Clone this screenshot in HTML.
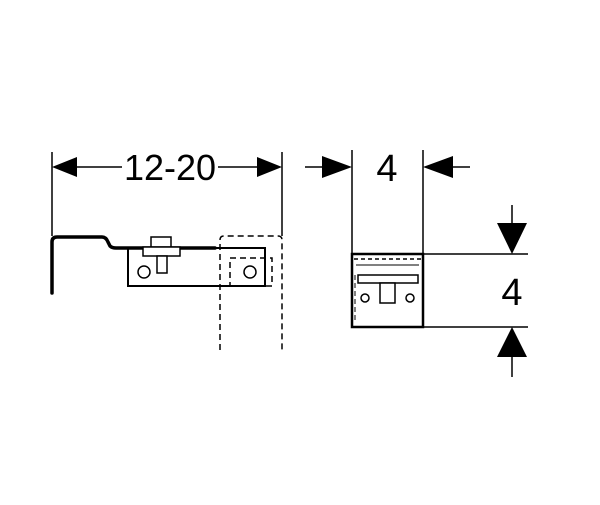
<!DOCTYPE html><html><head><style>body{margin:0;background:#fff}</style></head><body>
<svg width="600" height="500" viewBox="0 0 600 500" xmlns="http://www.w3.org/2000/svg" font-family="Liberation Sans, sans-serif">
<g stroke="#000" fill="none" stroke-width="1.5">
<line x1="52" y1="152" x2="52" y2="236"/>
<line x1="282" y1="152" x2="282" y2="236"/>
<line x1="77" y1="167" x2="122" y2="167"/>
<line x1="218" y1="167" x2="257" y2="167"/>
<line x1="352" y1="150" x2="352" y2="254"/>
<line x1="423" y1="150" x2="423" y2="254"/>
<line x1="305" y1="167" x2="325" y2="167"/>
<line x1="452" y1="167" x2="470" y2="167"/>
<line x1="423" y1="254" x2="528" y2="254"/>
<line x1="423" y1="327" x2="528" y2="327"/>
<line x1="512" y1="205" x2="512" y2="225"/>
<line x1="512" y1="356" x2="512" y2="377"/>
<path d="M52,293 V242 Q52,237 57,237 H102 Q106,237 108,242 L110,246 Q112,248 116,248 H215" stroke-width="3.5" stroke-linecap="round"/>
<rect x="128" y="248" width="137" height="38" stroke-width="2"/>
<rect x="151" y="237" width="20" height="10" fill="#fff"/>
<rect x="143" y="247" width="37" height="9" fill="#fff"/>
<rect x="157" y="256" width="10" height="17" fill="#fff"/>
<circle cx="144" cy="272" r="6"/>
<circle cx="250" cy="272" r="6"/>
<path d="M220,350 V240 Q220,236 224,236 H278 Q282,236 282,240 V350" stroke-dasharray="6,4"/>
<rect x="230" y="258" width="42" height="28" stroke-dasharray="6,4"/>
<rect x="352" y="254" width="71" height="73" stroke-width="2.5"/>
<line x1="354" y1="259" x2="421" y2="259" stroke-dasharray="4,3"/>
<line x1="356" y1="265" x2="419" y2="265" stroke-width="1"/>
<rect x="358" y="275" width="60" height="8"/>
<rect x="380" y="283" width="15" height="20" fill="#fff"/>
<circle cx="365" cy="298" r="4"/>
<circle cx="410" cy="298" r="4"/>
<line x1="355" y1="275" x2="355" y2="320" stroke-dasharray="5,3" stroke-width="1"/>
</g>
<g fill="#000">
<polygon points="52,167 77,157 77,177"/>
<polygon points="282,167 257,157 257,177"/>
<polygon points="352,167 322,156 322,178"/>
<polygon points="423,167 453,156 453,178"/>
<polygon points="512,254 497,223 527,223"/>
<polygon points="512,327 497,357 527,357"/>
</g>
<text x="170" y="180" font-size="36" text-anchor="middle">12-20</text>
<text x="387" y="181" font-size="38" text-anchor="middle">4</text>
<text x="512" y="305" font-size="38" text-anchor="middle">4</text>
</svg>
</body></html>
